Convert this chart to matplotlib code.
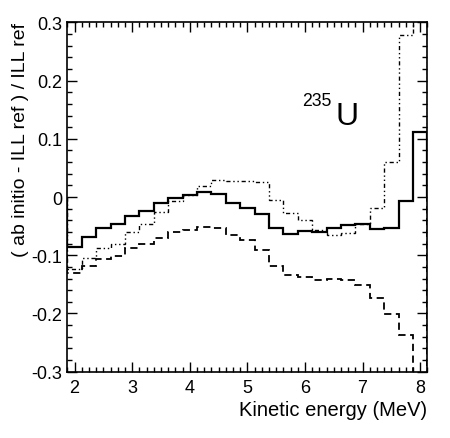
import numpy as np
import matplotlib
matplotlib.use("Agg")
import matplotlib.pyplot as plt
from matplotlib.ticker import MultipleLocator, FixedLocator

plt.rcParams['font.family'] = ['Liberation Sans', 'DejaVu Sans']

# bin edges: 25 bins of 0.25 MeV centred on 2.0 ... 8.0
bin_edges = np.arange(1.875, 8.126, 0.25)

solid = [-0.086, -0.069, -0.054, -0.046, -0.032, -0.024, -0.011, -0.001, 0.004, 0.008,
         0.005, -0.011, -0.019, -0.029, -0.053, -0.063, -0.059, -0.060, -0.054, -0.048,
         -0.046, -0.055, -0.053, -0.006, 0.111]
dashed = [-0.130, -0.118, -0.106, -0.101, -0.088, -0.081, -0.071, -0.060, -0.056, -0.051,
          -0.054, -0.066, -0.074, -0.091, -0.119, -0.134, -0.137, -0.142, -0.140, -0.142,
          -0.151, -0.174, -0.201, -0.237, -0.330]
dashdot = [-0.123, -0.105, -0.088, -0.080, -0.060, -0.047, -0.025, -0.007, 0.004, 0.019,
           0.030, 0.027, 0.028, 0.025, -0.005, -0.028, -0.040, -0.057, -0.065, -0.062,
           -0.046, -0.018, 0.061, 0.279, 0.330]

xticks = [2, 3, 4, 5, 6, 7, 8]
yticks = [-0.3, -0.2, -0.1, 0, 0.1, 0.2, 0.3]
ytick_labels = ['-0.3', '-0.2', '-0.1', '0', '0.1', '0.2', '0.3']

fig = plt.figure(figsize=(4.5, 4.39), dpi=100)
ax = fig.add_axes([0.1496, 0.151, 0.800, 0.7958])

ax.stairs(solid, bin_edges, color='black', lw=1.6)
ax.stairs(dashed, bin_edges, color='black', lw=1.3, linestyle=(0, (4, 2.5)))
ax.stairs(dashdot, bin_edges, color='black', lw=1.0, linestyle=(0, (3, 2, 1, 2, 1, 2)))

ax.set_xlim(1.875, 8.125)
ax.set_ylim(-0.3, 0.3)

ax.xaxis.set_major_locator(FixedLocator(xticks))
ax.xaxis.set_minor_locator(MultipleLocator(0.125))
ax.yaxis.set_major_locator(FixedLocator(yticks))
ax.yaxis.set_minor_locator(MultipleLocator(0.02))
ax.set_yticklabels(ytick_labels)

ax.tick_params(which='both', direction='in', top=True, right=True, labelsize=13, width=1.0)
ax.tick_params(which='major', length=7)
ax.tick_params(which='minor', length=3.5)
ax.tick_params(axis='x', pad=5)
ax.tick_params(axis='y', pad=3.5)
for s in ax.spines.values():
    s.set_linewidth(1.2)

ax.set_xlabel('Kinetic energy (MeV)', fontsize=14.5, loc='right', labelpad=3)
ax.set_ylabel('( ab initio - ILL ref ) / ILL ref', fontsize=14, loc='top', labelpad=2)

ax.text(0.651, 0.763, '235', transform=ax.transAxes, fontsize=12.7, ha='left', va='baseline')
ax.text(0.744, 0.709, 'U', transform=ax.transAxes, fontsize=23, ha='left', va='baseline')

fig.savefig('out.png', dpi=100)
